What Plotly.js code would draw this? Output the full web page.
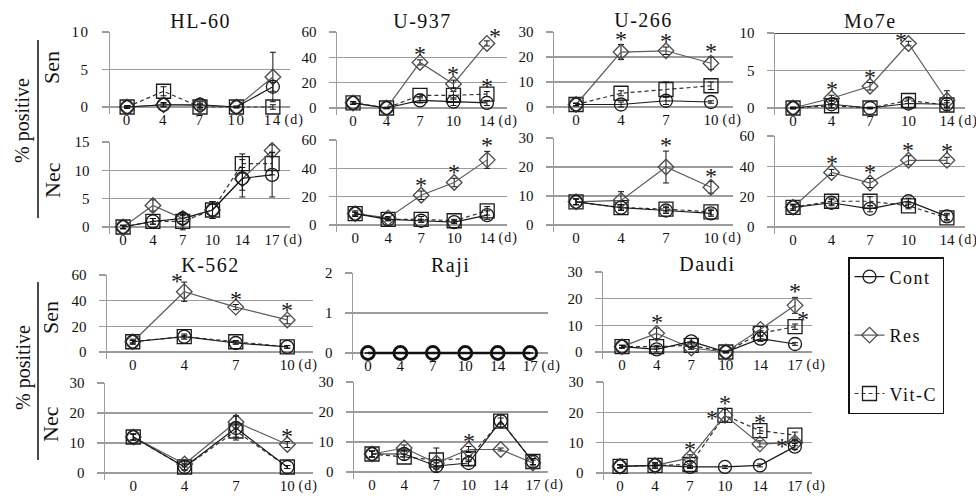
<!DOCTYPE html>
<html>
<head>
<meta charset="utf-8">
<script src="https://cdn.plot.ly/plotly-3.0.1.min.js"></script>
<style>
  html, body { margin: 0; padding: 0; background: #fff; }
  #chart { width: 976px; height: 496px; }
  .xtick text, .ytick text { letter-spacing: 1.5px; }
  .legendtext { letter-spacing: 1.5px; }
</style>
</head>
<body>
<div id="chart"></div>
<script>
// Day labels (x categories)
const DAYS_A = ['0', '4', '7', '10', '14'];
const DAYS_B = ['0', '4', '7', '10', '14', '17'];
const DAYS_C = ['0', '4', '7', '10'];

// Significance codes: 0 none, 1 above, 2 above-left, 3 above-right, 4 left

// HL-60
const HL60_SEN_CONT = [0, 0.3, 0.3, 0, 2.7];
const HL60_SEN_CONT_SD = [0.2, 0.3, 0.4, 0.1, 0.6];
const HL60_SEN_RES = [0, 0.3, 0.2, 0, 4.0];
const HL60_SEN_RES_SD = [0.1, 0.2, 0.3, 0.1, 3.3];
const HL60_SEN_VITC = [0, 2.1, 0, 0, 0];
const HL60_SEN_VITC_SD = [0.1, 0.6, 0.3, 0.1, 0.3];

const HL60_NEC_CONT = [0, 1, 1.5, 3, 8.6, 9.2];
const HL60_NEC_CONT_SD = [0.3, 0.5, 1, 1.5, 3.3, 3.9];
const HL60_NEC_RES = [0, 3.8, 1.5, 3, 8.5, 13.5];
const HL60_NEC_RES_SD = [0.3, 1, 0.5, 1, 2, 1];
const HL60_NEC_VITC = [0, 1, 1, 3, 11.2, 11.2];
const HL60_NEC_VITC_SD = [0.3, 0.5, 1.5, 1.5, 1.7, 2];

// U-937
const U937_SEN_CONT = [4, 0, 6, 5, 4];
const U937_SEN_CONT_SD = [1, 0.5, 2, 3, 2];
const U937_SEN_RES = [4, 0, 36, 19, 51];
const U937_SEN_RES_SD = [1, 0.5, 2, 3, 2];
const U937_SEN_RES_SIG = [0, 0, 1, 1, 3];
const U937_SEN_VITC = [4, 0, 10, 10, 11];
const U937_SEN_VITC_SD = [1, 0.5, 1, 3, 2];
const U937_SEN_VITC_SIG = [0, 0, 0, 0, 1];

const U937_NEC_CONT = [8, 4, 3, 2, 7];
const U937_NEC_CONT_SD = [1, 1, 1, 1, 3];
const U937_NEC_RES = [8, 5, 21, 30, 46];
const U937_NEC_RES_SD = [2, 1, 3, 3, 6];
const U937_NEC_RES_SIG = [0, 0, 1, 1, 1];
const U937_NEC_VITC = [8, 4, 4, 3, 10];
const U937_NEC_VITC_SD = [1, 1, 2, 1, 3];

// U-266
const U266_SEN_CONT = [1, 1, 2.5, 2];
const U266_SEN_CONT_SD = [0.5, 1, 1.5, 0.5];
const U266_SEN_RES = [1, 22, 22.5, 17.5];
const U266_SEN_RES_SD = [0.5, 3, 1.5, 2.5];
const U266_SEN_RES_SIG = [0, 1, 1, 1];
const U266_SEN_VITC = [1, 5.5, 7, 8.5];
const U266_SEN_VITC_SD = [0.5, 1, 3, 1.5];

const U266_NEC_CONT = [8, 6, 5, 4];
const U266_NEC_CONT_SD = [1, 1, 1, 1];
const U266_NEC_RES = [8, 8.5, 20, 13];
const U266_NEC_RES_SD = [1, 3, 5.5, 2];
const U266_NEC_RES_SIG = [0, 0, 1, 1];
const U266_NEC_VITC = [8, 6, 5.5, 4.5];
const U266_NEC_VITC_SD = [1, 1, 1, 1];

// Mo7e
const MO7E_SEN_CONT = [0, 0.5, 0, 0.6, 0.5];
const MO7E_SEN_CONT_SD = [0.1, 0.5, 0.1, 0.6, 0.5];
const MO7E_SEN_RES = [0, 1.3, 2.9, 8.6, 1.0];
const MO7E_SEN_RES_SD = [0.1, 0.4, 0.5, 0.3, 1.3];
const MO7E_SEN_RES_SIG = [0, 1, 1, 2, 0];
const MO7E_SEN_VITC = [0, 0.3, 0, 1, 0.4];
const MO7E_SEN_VITC_SD = [0.1, 0.3, 0.1, 0.4, 0.3];

const MO7E_NEC_CONT = [13, 16, 12, 17, 7];
const MO7E_NEC_CONT_SD = [2, 2, 2, 2, 2];
const MO7E_NEC_RES = [13, 36, 29, 44, 44];
const MO7E_NEC_RES_SD = [1, 2, 3, 3, 2];
const MO7E_NEC_RES_SIG = [0, 1, 1, 1, 1];
const MO7E_NEC_VITC = [13, 17, 17, 14, 6];
const MO7E_NEC_VITC_SD = [2, 2, 3, 2, 2];

// K-562
const K562_SEN_CONT = [8, 12, 7, 4];
const K562_SEN_CONT_SD = [1, 2, 1, 1];
const K562_SEN_RES = [8, 47, 35, 25];
const K562_SEN_RES_SD = [2, 7.5, 2, 3];
const K562_SEN_RES_SIG = [0, 2, 1, 1];
const K562_SEN_VITC = [8, 12, 8, 4];
const K562_SEN_VITC_SD = [1, 1, 1, 1];

const K562_NEC_CONT = [12, 2, 15, 2];
const K562_NEC_CONT_SD = [1, 1, 4, 0.5];
const K562_NEC_RES = [12, 3, 17, 9.5];
const K562_NEC_RES_SD = [1, 1, 2, 1];
const K562_NEC_RES_SIG = [0, 0, 0, 1];
const K562_NEC_VITC = [12, 2, 14, 2];
const K562_NEC_VITC_SD = [1, 1, 2, 0.5];

// Raji
const RAJI_SEN_CONT = [0, 0, 0, 0, 0, 0];
const RAJI_SEN_CONT_SD = [0, 0, 0, 0, 0, 0];

const RAJI_NEC_CONT = [6, 6, 2, 3, 17, 3.5];
const RAJI_NEC_CONT_SD = [1, 1, 1, 1, 2, 1];
const RAJI_NEC_RES = [6, 8, 3, 7.5, 7.5, 3];
const RAJI_NEC_RES_SD = [1, 1, 1, 1, 0.5, 1];
const RAJI_NEC_RES_SIG = [0, 0, 0, 1, 0, 0];
const RAJI_NEC_VITC = [6, 5, 4, 4.5, 17, 3.5];
const RAJI_NEC_VITC_SD = [1, 1, 4, 1, 1, 1];

// Daudi
const DAUDI_SEN_CONT = [2, 1, 4, 0, 5, 3];
const DAUDI_SEN_CONT_SD = [0.5, 1, 1, 0.3, 1, 0.5];
const DAUDI_SEN_RES = [2, 7, 1.5, 0, 8.5, 17.5];
const DAUDI_SEN_RES_SD = [0.5, 2, 0.5, 0.3, 1, 3];
const DAUDI_SEN_RES_SIG = [0, 1, 0, 0, 0, 1];
const DAUDI_SEN_VITC = [2, 2, 2.5, 0, 7, 9.5];
const DAUDI_SEN_VITC_SD = [0.5, 0.5, 1, 0.3, 1, 1];
const DAUDI_SEN_VITC_SIG = [0, 0, 0, 0, 0, 3];

const DAUDI_NEC_CONT = [2.2, 2.5, 2, 2, 2.5, 8.7];
const DAUDI_NEC_CONT_SD = [0.5, 0.5, 0.5, 0.5, 0.5, 1];
const DAUDI_NEC_RES = [2.2, 2.5, 5, 19, 9.6, 10];
const DAUDI_NEC_RES_SD = [0.5, 0.5, 1, 2, 1, 1];
const DAUDI_NEC_RES_SIG = [0, 0, 1, 4, 0, 4];
const DAUDI_NEC_VITC = [2.2, 2.5, 2.8, 19, 14, 12.5];
const DAUDI_NEC_VITC_SD = [0.5, 1, 1, 2, 1, 1];
const DAUDI_NEC_VITC_SIG = [0, 0, 0, 1, 1, 0];

// ---------- drawing ----------
const W = 976, H = 496;
const FONT = 'Liberation Serif';
const GRID = '#9c9c9c';
const px = x => x / W;
const py = y => 1 - y / H;

const STYLE = {
  vitc: { name: 'Vit-C', rank: 3, symbol: 'square-open', size: 14, mcolor: '#1c1c1c', lcolor: '#333', dash: '4px,3px', width: 1.2 },
  res:  { name: 'Res',   rank: 2, symbol: 'diamond-open', size: 12, mcolor: '#4a4a4a', lcolor: '#5c5c5c', dash: 'solid', width: 1.2 },
  cont: { name: 'Cont',  rank: 1, symbol: 'circle-open', size: 13, mcolor: '#1a1a1a', lcolor: '#1a1a1a', dash: 'solid', width: 1.2 }
};
// pixel offsets of the significance star: [xshift, yshift, anchored at value+sd?]
const SIG_OFFSET = { 1: [0, -9, true], 2: [-7, -14, true], 3: [8, -10, true], 4: [-13, -18, false] };

// box: [axis x, grid end x, top grid y, zero grid y] in px; cat: category index range
const PANELS = [
  { title: 'HL-60', titleY: 21, days: DAYS_A, ymax: 10, dtick: 5, box: [110, 290, 32, 107], cat: [-0.47, 4.47],
    series: { vitc: [HL60_SEN_VITC, HL60_SEN_VITC_SD], res: [HL60_SEN_RES, HL60_SEN_RES_SD], cont: [HL60_SEN_CONT, HL60_SEN_CONT_SD] } },
  { days: DAYS_B, ymax: 15, dtick: 5, box: [110, 290, 142, 227], cat: [-0.44, 5.6],
    series: { vitc: [HL60_NEC_VITC, HL60_NEC_VITC_SD], res: [HL60_NEC_RES, HL60_NEC_RES_SD], cont: [HL60_NEC_CONT, HL60_NEC_CONT_SD] } },
  { title: 'U-937', titleY: 21, days: DAYS_A, ymax: 60, dtick: 20, box: [337, 507, 32, 108], cat: [-0.48, 4.6],
    series: { vitc: [U937_SEN_VITC, U937_SEN_VITC_SD, U937_SEN_VITC_SIG], res: [U937_SEN_RES, U937_SEN_RES_SD, U937_SEN_RES_SIG], cont: [U937_SEN_CONT, U937_SEN_CONT_SD] } },
  { days: DAYS_A, ymax: 60, dtick: 20, box: [337, 507, 140, 225], cat: [-0.55, 4.6],
    series: { vitc: [U937_NEC_VITC, U937_NEC_VITC_SD], res: [U937_NEC_RES, U937_NEC_RES_SD, U937_NEC_RES_SIG], cont: [U937_NEC_CONT, U937_NEC_CONT_SD] } },
  { title: 'U-266', titleY: 20, days: DAYS_C, ymax: 30, dtick: 10, box: [554, 733, 32, 107], cat: [-0.49, 3.49],
    series: { vitc: [U266_SEN_VITC, U266_SEN_VITC_SD], res: [U266_SEN_RES, U266_SEN_RES_SD, U266_SEN_RES_SIG], cont: [U266_SEN_CONT, U266_SEN_CONT_SD] } },
  { days: DAYS_C, ymax: 30, dtick: 10, box: [554, 733, 138, 225], cat: [-0.49, 3.49],
    series: { vitc: [U266_NEC_VITC, U266_NEC_VITC_SD], res: [U266_NEC_RES, U266_NEC_RES_SD, U266_NEC_RES_SIG], cont: [U266_NEC_CONT, U266_NEC_CONT_SD] } },
  { title: 'Mo7e', titleY: 21, days: DAYS_A, ymax: 10, dtick: 5, box: [775, 965, 33, 108], cat: [-0.47, 4.47], topBorder: true,
    series: { vitc: [MO7E_SEN_VITC, MO7E_SEN_VITC_SD], res: [MO7E_SEN_RES, MO7E_SEN_RES_SD, MO7E_SEN_RES_SIG], cont: [MO7E_SEN_CONT, MO7E_SEN_CONT_SD] } },
  { days: DAYS_A, ymax: 60, dtick: 20, box: [775, 965, 136, 227], cat: [-0.47, 4.47],
    series: { vitc: [MO7E_NEC_VITC, MO7E_NEC_VITC_SD], res: [MO7E_NEC_RES, MO7E_NEC_RES_SD, MO7E_NEC_RES_SIG], cont: [MO7E_NEC_CONT, MO7E_NEC_CONT_SD] } },
  { title: 'K-562', titleY: 265, days: DAYS_C, ymax: 60, dtick: 20, box: [107, 313, 275, 352], cat: [-0.5, 3.5],
    series: { vitc: [K562_SEN_VITC, K562_SEN_VITC_SD], res: [K562_SEN_RES, K562_SEN_RES_SD, K562_SEN_RES_SIG], cont: [K562_SEN_CONT, K562_SEN_CONT_SD] } },
  { days: DAYS_C, ymax: 30, dtick: 10, box: [105, 313, 383, 473], cat: [-0.55, 3.5],
    series: { vitc: [K562_NEC_VITC, K562_NEC_VITC_SD], res: [K562_NEC_RES, K562_NEC_RES_SD, K562_NEC_RES_SIG], cont: [K562_NEC_CONT, K562_NEC_CONT_SD] } },
  { title: 'Raji', titleY: 265, days: DAYS_B, ymax: 2, dtick: 1, box: [353, 548, 273, 353], cat: [-0.46, 5.55], bold: true,
    series: { cont: [RAJI_SEN_CONT, RAJI_SEN_CONT_SD] } },
  { days: DAYS_B, ymax: 30, dtick: 10, box: [354, 548, 382, 472], cat: [-0.56, 5.47],
    series: { vitc: [RAJI_NEC_VITC, RAJI_NEC_VITC_SD], res: [RAJI_NEC_RES, RAJI_NEC_RES_SD, RAJI_NEC_RES_SIG], cont: [RAJI_NEC_CONT, RAJI_NEC_CONT_SD] } },
  { title: 'Daudi', titleY: 264, days: DAYS_B, ymax: 30, dtick: 10, box: [603, 812, 272, 352], cat: [-0.55, 5.49],
    series: { vitc: [DAUDI_SEN_VITC, DAUDI_SEN_VITC_SD, DAUDI_SEN_VITC_SIG], res: [DAUDI_SEN_RES, DAUDI_SEN_RES_SD, DAUDI_SEN_RES_SIG], cont: [DAUDI_SEN_CONT, DAUDI_SEN_CONT_SD] } },
  { days: DAYS_B, ymax: 30, dtick: 10, box: [604, 812, 382, 473], cat: [-0.46, 5.49],
    series: { vitc: [DAUDI_NEC_VITC, DAUDI_NEC_VITC_SD, DAUDI_NEC_VITC_SIG], res: [DAUDI_NEC_RES, DAUDI_NEC_RES_SD, DAUDI_NEC_RES_SIG], cont: [DAUDI_NEC_CONT, DAUDI_NEC_CONT_SD] } }
];

const traces = [];
const layout = {
  width: W, height: H,
  margin: { l: 0, r: 0, t: 0, b: 0 },
  paper_bgcolor: '#fff', plot_bgcolor: 'rgba(0,0,0,0)',
  font: { family: FONT, color: '#111', size: 14 },
  showlegend: true,
  legend: {
    x: px(848), y: py(257), xanchor: 'left', yanchor: 'top',
    bordercolor: '#111', borderwidth: 1.5, bgcolor: '#fff',
    font: { family: FONT, size: 18, color: '#111' },
    traceorder: 'grouped', tracegroupgap: 32, itemwidth: 30
  },
  annotations: [], shapes: []
};
const legendDone = {};
const spacedTexts = {};   // annotation text -> letter spacing

PANELS.forEach((p, i) => {
  const n = i + 1;
  const xa = n === 1 ? 'x' : 'x' + n;
  const ya = n === 1 ? 'y' : 'y' + n;
  const [x0, x1, yTop, y0] = p.box;
  const below = 7;                                   // axis line runs a little past zero
  const ext = p.ymax * below / (y0 - yTop);
  const ticks = [];
  for (let v = 0; v <= p.ymax + 1e-9; v += p.dtick) ticks.push(v);

  layout[n === 1 ? 'xaxis' : 'xaxis' + n] = {
    type: 'category', domain: [px(x0), px(x1)], range: p.cat,
    anchor: 'free', position: py(y0),
    showgrid: false, zeroline: false, showline: false, ticks: '',
    tickfont: { family: FONT, size: 15, color: '#111' }, ticklabelstandoff: 2,
    fixedrange: true
  };
  layout[n === 1 ? 'yaxis' : 'yaxis' + n] = {
    domain: [py(y0 + below), py(yTop)], range: [-ext, p.ymax * 1.0005], anchor: xa,
    tickmode: 'array', tickvals: ticks, ticktext: ticks.map(String),
    showgrid: true, gridcolor: GRID, gridwidth: 1.5, zeroline: false,
    showline: true, linecolor: GRID, linewidth: 1.5,
    ticks: 'outside', ticklen: 7, tickcolor: GRID, tickwidth: 1.5,
    tickfont: { family: FONT, size: 15, color: '#111' }, ticklabelstandoff: 9,
    fixedrange: true
  };

  Object.keys(p.series).forEach(key => {
    const st = STYLE[key];
    const [vals, sd, sig] = p.series[key];
    const lw = p.bold ? 2.6 : st.width;
    const showLeg = !legendDone[key];
    legendDone[key] = true;
    traces.push({
      type: 'scatter', mode: 'lines+markers', xaxis: xa, yaxis: ya,
      x: p.days, y: vals, name: st.name, legendgroup: key, legendrank: st.rank, showlegend: showLeg,
      line: { color: p.bold ? '#111' : st.lcolor, width: lw, dash: st.dash },
      marker: { symbol: st.symbol, size: st.size, color: p.bold ? '#111' : st.mcolor, line: { width: p.bold ? 2.8 : 1.3 } },
      error_y: { type: 'data', array: sd, visible: true, color: '#111', thickness: 1, width: 3 },
      cliponaxis: false, hoverinfo: 'skip'
    });
    // significance stars, placed from the series values
    if (sig) {
      sig.forEach((c, j) => {
        if (!c) return;
        const [dx, dy, onBar] = SIG_OFFSET[c];
        layout.annotations.push({
          xref: xa, yref: ya, x: j, y: onBar ? vals[j] + sd[j] : vals[j],
          xanchor: 'center', yanchor: 'bottom', xshift: dx, yshift: dy,
          showarrow: false, text: '*', font: { family: FONT, size: 24, color: '#1a1a1a' }
        });
      });
    }
  });

  // day unit after the last tick label
  layout.annotations.push({
    xref: xa, yref: 'paper', x: p.days.length - 1, y: py(y0 + 13),
    xanchor: 'left', yanchor: 'middle', xshift: 11, showarrow: false,
    text: '(d)', font: { family: FONT, size: 14, color: '#111' }
  });
  spacedTexts['(d)'] = '1px';
  if (p.title) {
    layout.annotations.push({
      xref: xa + ' domain', yref: 'paper', x: 0.5, y: py(p.titleY),
      xanchor: 'center', yanchor: 'middle', showarrow: false,
      text: p.title, font: { family: FONT, size: 20, color: '#111' }
    });
    spacedTexts[p.title] = '1.5px';
  }
  if (p.topBorder) {
    layout.shapes.push({
      type: 'line', xref: xa + ' domain', yref: ya, x0: 0, x1: 1, y0: p.ymax, y1: p.ymax,
      line: { color: '#111', width: 1.6 }
    });
  }
});

// Row labels at the left
const sideLabels = [
  { text: '% positive', x: 23, y: 121, size: 20 },
  { text: 'Sen', x: 51, y: 68, size: 22 },
  { text: 'Nec', x: 52, y: 180, size: 22 },
  { text: '% positive', x: 23, y: 368, size: 20 },
  { text: 'Sen', x: 50, y: 318, size: 22 },
  { text: 'Nec', x: 50, y: 424, size: 22 }
];
sideLabels.forEach(s => layout.annotations.push({
  xref: 'paper', yref: 'paper', x: px(s.x), y: py(s.y), xanchor: 'center', yanchor: 'middle',
  textangle: -90, showarrow: false, text: s.text, font: { family: FONT, size: s.size, color: '#111' }
}));
[[40, 218], [282, 460]].forEach(([a, b]) => layout.shapes.push({
  type: 'line', xref: 'paper', yref: 'paper', x0: px(38), x1: px(38), y0: py(a), y1: py(b),
  line: { color: '#111', width: 1.5 }
}));

Plotly.newPlot('chart', traces, layout, { staticPlot: true, displayModeBar: false }).then(gd => {
  // slightly wider set panel titles and unit labels (centred text stays centred)
  gd.querySelectorAll('.annotation-text').forEach(t => {
    const sp = spacedTexts[t.textContent];
    if (sp) t.style.letterSpacing = sp;
  });
});
</script>
</body>
</html>
